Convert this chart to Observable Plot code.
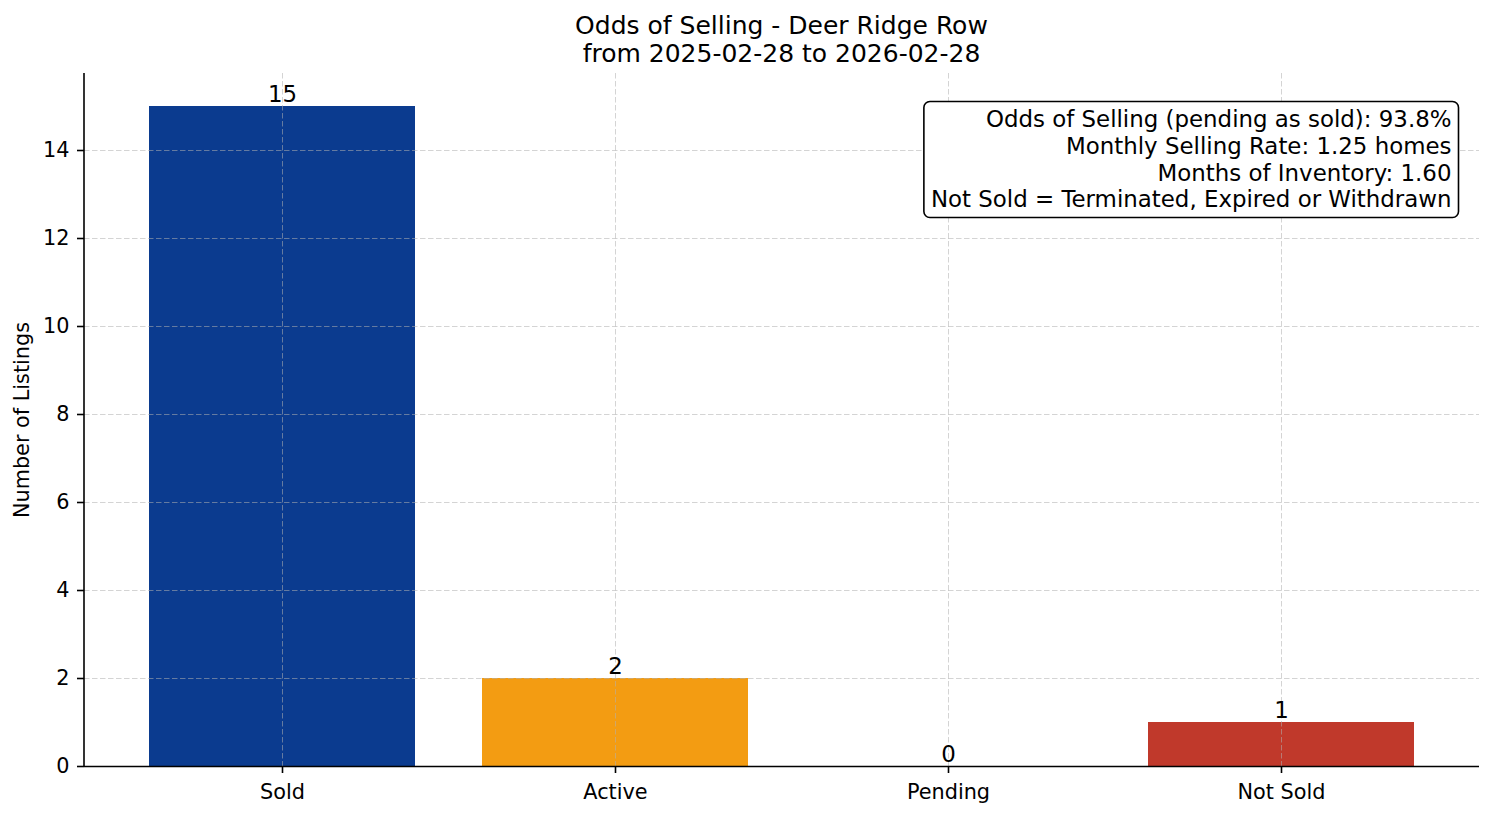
<!DOCTYPE html>
<html><head><meta charset="utf-8">
<script src="https://cdn.jsdelivr.net/npm/d3@7"></script>
<script src="https://cdn.jsdelivr.net/npm/@observablehq/plot@0.6"></script>
<style>
body{margin:0;background:#fff;font-family:"DejaVu Sans";}
#title{position:relative;width:1494px;height:66px;}
#title div{position:absolute;left:84px;width:1395px;text-align:center;font-size:25px;line-height:28px;color:#000;white-space:nowrap}
#dbg{position:absolute;left:300px;top:300px;font-size:14px;color:red}
</style></head><body>
<div id="title"><div style="top:12px">Odds of Selling - Deer Ridge Row</div><div style="top:40px">from 2025-02-28 to 2026-02-28</div></div>
<div id="chart"></div>
<div id="dbg"></div>
<script>
const categories = ["Sold", "Active", "Pending", "Not Sold"];
const counts = [15, 2, 0, 1];
const barColors = ["#0b3b8f", "#f39c12", "#7f8c8d", "#c0392b"];
const yTicks = [0, 2, 4, 6, 8, 10, 12, 14];
const yLabel = "Number of Listings";
const statLines = [
  "Odds of Selling (pending as sold): 93.8%",
  "Monthly Selling Rate: 1.25 homes",
  "Months of Inventory: 1.60",
  "Not Sold = Terminated, Expired or Withdrawn"
];

const data = categories.map((c, i) => ({cat: c, value: counts[i], color: barColors[i]}));
const gridStyle = {stroke: "#b0b0b0", strokeOpacity: 0.55, strokeDasharray: "5.5,2.5", strokeWidth: 1};

const plot = Plot.plot({
  width: 1494, height: 750,
  marginTop: 7, marginBottom: 50, marginLeft: 84, marginRight: 15,
  style: {fontFamily: "DejaVu Sans", fontSize: "20.8px", color: "#000", background: "#fff"},
  x: {domain: categories, paddingInner: 0.2, paddingOuter: 0.19, label: null},
  y: {domain: [0, 15.75], label: null},
  color: {type: "identity"},
  marks: [
    Plot.barY(data, {x: "cat", y: "value", fill: "color"}),
    Plot.gridY(yTicks, gridStyle),
    Plot.gridX(categories, gridStyle),
    Plot.axisY(yTicks, {tickSize: 7, tickPadding: 8, fontSize: 20.8, label: null, strokeWidth: 1.6}),
    Plot.axisX({tickSize: 7, tickPadding: 11, fontSize: 20.8, label: null, strokeWidth: 1.6}),
    Plot.ruleY([0], {stroke: "#000", strokeWidth: 1.6}),
    Plot.text(data, {x: "cat", y: "value", text: d => String(d.value), lineAnchor: "bottom", dy: -5, fontSize: 22.9, fill: "#000"}),
    Plot.text([yLabel], {frameAnchor: "left", textAnchor: "middle", rotate: -90, dx: -62, fontSize: 20.8, fill: "#000"}),
    Plot.text([statLines.join("\n")], {frameAnchor: "top-right", textAnchor: "end", lineAnchor: "top", dx: -28, dy: 35, fontSize: 22.9, lineHeight: 1.165, fill: "#000"})
  ]
});
document.getElementById("chart").appendChild(plot);

try {
  const svgNode = plot.tagName.toLowerCase() === "svg" ? plot : plot.querySelector("svg");
  const svg = d3.select(svgNode);
  const yScale = plot.scale("y");
  svg.append("line")
    .attr("x1", 84).attr("x2", 84)
    .attr("y1", yScale.apply(15.75)).attr("y2", yScale.apply(0) + 0.8)
    .attr("stroke", "#000").attr("stroke-width", 1.6);

  let statText = null;
  svgNode.querySelectorAll("text").forEach(t => {
    if (t.textContent.indexOf("Withdrawn") >= 0) statText = t;
  });
  if (statText) {
    const bb = statText.getBBox();
    const rect = document.createElementNS("http://www.w3.org/2000/svg", "rect");
    rect.setAttribute("x", bb.x - 7);
    rect.setAttribute("y", bb.y - 5);
    rect.setAttribute("width", bb.width + 14);
    rect.setAttribute("height", bb.height + 10);
    rect.setAttribute("rx", 6);
    rect.setAttribute("ry", 6);
    rect.setAttribute("fill", "#fff");
    rect.setAttribute("stroke", "#000");
    rect.setAttribute("stroke-width", 1.6);
    const tr = statText.getAttribute("transform");
    if (tr) rect.setAttribute("transform", tr);
    statText.parentNode.insertBefore(rect, statText);
  } else {
    document.getElementById("dbg").textContent = "stat text not found";
  }
} catch (e) {
  document.getElementById("dbg").textContent = String(e);
}
</script>
</body></html>
